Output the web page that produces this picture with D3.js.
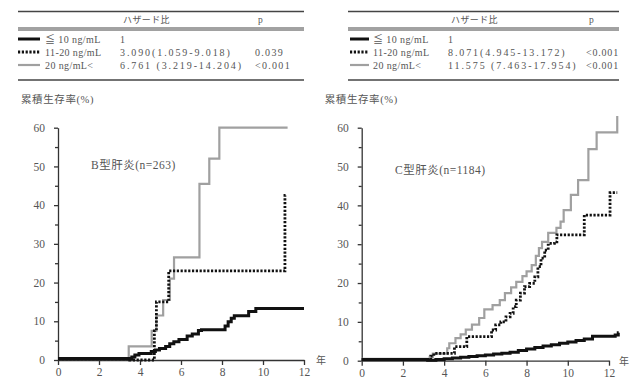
<!DOCTYPE html>
<html>
<head>
<meta charset="utf-8">
<script src="https://cdn.jsdelivr.net/npm/d3@7"></script>
<style>
  body { margin: 0; background: #fff; }
  svg { display: block; }
  text { font-family: "Liberation Serif", "Noto Sans CJK JP", serif; fill: #555; }
</style>
</head>
<body>
<div id="chart"></div>
<script>
// x: years, y: cumulative rate (%)
var xTicks = [0, 2, 4, 6, 8, 10, 12]
var yTicks = [0, 10, 20, 30, 40, 50, 60]
var yMinor = [5, 15, 25, 35, 45, 55]

var groupLabels = ['≦ 10 ng/mL', '11-20 ng/mL', '20 ng/mL<']
var hazardB = ['1', '3.090(1.059-9.018)', '6.761 (3.219-14.204)']
var pB = ['', '0.039', '<0.001']
var hazardC = ['1', '8.071(4.945-13.172)', '11.575 (7.463-17.954)']
var pC = ['', '<0.001', '<0.001']

// B型肝炎
var bLow = [[0,0.4],[3.6,0.8],[3.75,1.3],[3.95,1.7],[4.55,2.2],[4.75,2.6],[4.95,3.0],[5.25,3.5],[5.45,4.2],[5.65,4.7],[5.9,5.3],[6.3,6.2],[6.55,6.7],[6.85,7.6],[7.0,7.8],[8.15,8.8],[8.3,9.9],[8.45,10.8],[8.6,11.4],[9.3,12.5],[9.65,13.3],[12,13.3]]
var bMid = [[0,0.3],[3.5,0],[4.7,7.5],[4.8,15],[5.4,23],[11.07,42.5],[11.1,42.5]]
var bHigh = [[0,0.5],[3.45,3.5],[4.57,7.5],[4.8,11.5],[5.13,15.5],[5.46,21],[5.66,26.5],[6.9,45.5],[7.38,52],[7.87,60],[11.2,60]]

// C型肝炎
var cLow = [[0,0.3],[3.2,0.1],[3.6,0.3],[4.0,0.5],[4.4,0.7],[4.8,0.9],[5.2,1.1],[5.6,1.3],[6.0,1.5],[6.4,1.7],[6.8,1.9],[7.2,2.2],[7.6,2.6],[8.0,3.0],[8.4,3.4],[8.8,3.8],[9.2,4.1],[9.6,4.5],[10.0,4.8],[10.4,5.2],[10.8,5.6],[11.2,6.3],[12.3,6.6],[12.45,7.2],[12.47,7.2]]
var cMid = [[0,0.3],[3.35,1.2],[3.5,1.9],[4.5,3.6],[5.1,6.2],[6.3,7.9],[6.5,9.2],[6.75,10],[7.0,11.3],[7.2,12.2],[7.35,13.9],[7.5,15.6],[7.7,17.4],[7.9,19.1],[8.15,19.9],[8.4,21.6],[8.55,24.2],[8.7,26.4],[8.88,28.5],[9.05,30.2],[9.35,30.6],[9.47,32.4],[10.8,37.5],[12.05,43.3],[12.4,43.3]]
var cHigh = [[0,0.5],[3.16,0.5],[3.3,1],[3.45,1.8],[4.15,3.2],[4.25,4.5],[4.55,5.8],[4.8,6.8],[5.05,8.0],[5.35,9.3],[5.7,11],[5.95,13.2],[6.35,14.3],[6.7,15.6],[6.95,17.4],[7.25,18.9],[7.5,20.3],[7.8,21.8],[8.0,23],[8.25,24.6],[8.45,27],[8.6,29],[8.75,30.6],[9.05,32.9],[9.45,34.2],[9.65,35.8],[9.8,38.8],[10.15,42.7],[10.5,46.5],[11.0,54.5],[11.4,58.8],[12.38,58.8],[12.4,63]]

var W = 629, H = 387
var svg = d3.select('#chart').append('svg').attr('width', W).attr('height', H)

var styles = [
  {stroke: '#111', width: 3, dash: null},
  {stroke: '#111', width: 2.8, dash: '2.2,1.6'},
  {stroke: '#a0a0a0', width: 2.2, dash: null}
]

var panels = [
  {x0: 58, x1: 304, y0: 360, y1: 127.7, title: 'B型肝炎(n=263)', tx: 91, ty: 169, unitX: 316,
   series: [bLow, bMid, bHigh], hazard: hazardB, p: pB, pSpace: 1.3,
   tab: {l: 18, r: 304, line: 18, lineEnd: 40, label: 45, hr: 120, pcol: 255}},
  {x0: 361.7, x1: 609, y0: 360.7, y1: 127.7, title: 'C型肝炎(n=1184)', tx: 395, ty: 174, unitX: 619,
   series: [cLow, cMid, cHigh], hazard: hazardC, p: pC, pSpace: 0.8,
   tab: {l: 348, r: 619, line: 350, lineEnd: 369, label: 373, hr: 448, pcol: 586}}
]

panels.forEach(function (p) {
  var x = d3.scaleLinear().domain([0, 12]).range([p.x0, p.x1])
  var y = d3.scaleLinear().domain([0, 60]).range([p.y0, p.y1])
  var g = svg.append('g')

  // 表
  var t = p.tab
  g.append('line').attr('x1', t.l).attr('x2', t.r).attr('y1', 11.5).attr('y2', 11.5).attr('stroke', '#444').attr('stroke-width', 1.6)
  g.append('line').attr('x1', t.l).attr('x2', t.r).attr('y1', 28).attr('y2', 28).attr('stroke', '#444').attr('stroke-width', 1)
  g.append('line').attr('x1', t.l).attr('x2', t.r).attr('y1', 30).attr('y2', 30).attr('stroke', '#444').attr('stroke-width', 1)
  g.append('line').attr('x1', t.l).attr('x2', t.r).attr('y1', 80).attr('y2', 80).attr('stroke', '#444').attr('stroke-width', 1.6)
  g.append('text').attr('x', t.hr + 3).attr('y', 23).attr('font-size', 9).attr('letter-spacing', 0.4).text('ハザード比')
  g.append('text').attr('x', t.pcol + 3).attr('y', 23).attr('font-size', 9.5).text('p')
  groupLabels.forEach(function (lab, i) {
    var ry = 39 + i * 13
    var s = styles[i]
    g.append('line').attr('x1', t.line).attr('x2', t.lineEnd).attr('y1', ry).attr('y2', ry)
      .attr('stroke', s.stroke).attr('stroke-width', s.width).attr('stroke-dasharray', s.dash)
    g.append('text').attr('x', t.label).attr('y', ry + 3.5).attr('font-size', 10).attr('letter-spacing', 0.4).text(lab)
    g.append('text').attr('x', t.hr).attr('y', ry + 3.5).attr('font-size', 10).attr('letter-spacing', 1.9).text(p.hazard[i])
    g.append('text').attr('x', t.pcol).attr('y', ry + 3.5).attr('font-size', 10).attr('letter-spacing', p.pSpace).text(p.p[i])
  })

  // 軸
  var yAxis = d3.axisLeft(y).tickValues(yTicks).tickSize(4).tickSizeOuter(0).tickPadding(9)
  g.append('g').attr('transform', 'translate(' + p.x0 + ',0)').call(yAxis)
  g.append('g').attr('transform', 'translate(' + p.x0 + ',0)')
    .call(d3.axisLeft(y).tickValues(yMinor).tickSize(3).tickSizeOuter(0).tickFormat(''))
    .select('.domain').remove()
  var xAxis = d3.axisBottom(x).tickValues(xTicks).tickSize(5).tickSizeOuter(0).tickPadding(3)
  g.append('g').attr('transform', 'translate(0,' + p.y0 + ')').call(xAxis)
  g.selectAll('.domain, .tick line').attr('stroke', '#333').attr('stroke-width', 1.3)
  g.selectAll('.tick text').attr('font-size', 11.5).attr('fill', '#555').style('font-family', '"Liberation Serif", serif')

  g.append('text').attr('x', p.unitX).attr('y', p.y0 + 4).attr('font-size', 10).text('年')
  g.append('text').attr('x', p.x0 - 37).attr('y', 103).attr('font-size', 10.5).attr('letter-spacing', 0.6).text('累積生存率(%)')
  g.append('text').attr('x', p.tx).attr('y', p.ty).attr('font-size', 11.5).attr('letter-spacing', 0.5).text(p.title)

  // 曲線
  var line = d3.line().x(function (d) { return x(d[0]) }).y(function (d) { return y(d[1]) }).curve(d3.curveStepAfter)
  var order = [2, 1, 0]
  order.forEach(function (i) {
    var s = styles[i]
    g.append('path').datum(p.series[i]).attr('d', line).attr('fill', 'none')
      .attr('stroke', s.stroke).attr('stroke-width', s.width).attr('stroke-dasharray', s.dash)
  })
})
</script>
</body>
</html>
